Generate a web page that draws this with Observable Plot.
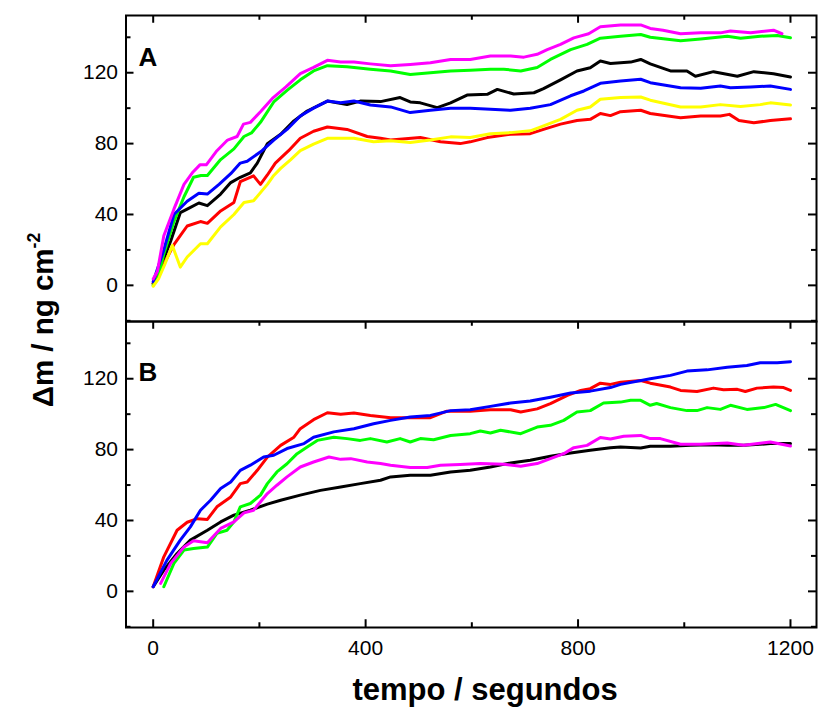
<!DOCTYPE html>
<html><head><meta charset="utf-8">
<script src="https://cdn.jsdelivr.net/npm/d3@7"></script>
<script src="https://cdn.jsdelivr.net/npm/@observablehq/plot@0.6"></script>
<style>html,body{margin:0;padding:0;background:#fff;overflow:hidden}</style>
</head><body><div id="chart"></div>
<script>
// ---------- data ----------
const panels = ["A", "B"];
const seriesOrder = ["black", "red", "green", "blue", "magenta", "yellow"];
const seriesColors = ["#000000", "#ff0000", "#00ff00", "#0000ff", "#ff00ff", "#ffff00"];

const xMajorTicks = [0, 400, 800, 1200];
const xMinorTicks = [200, 600, 1000];
const yMajorTicks = [0, 40, 80, 120];
const yMinorTicks = [-20, 20, 60, 100, 140];

// Panel A : [tempo (s), Δm (ng cm-2)]
const A_black = [[0,1],[20,15],[33,25],[51,41],[64,43],[86,46.5],[102,45],[127,51.5],[146,58],[164,61],[183,63.5],[196,69],[215,80],[240,85.3],[265,92.8],[290,98.4],[328,104],[365,102],[390,104],[428,103.7],[465,106],[484,103.5],[503,103],[535,100.3],[560,103],[591,107.4],[629,107.8],[648,110.6],[679,108],[717,108.7],[735,111],[767,116],[798,121],[823,122.8],[842,126.6],[861,125.2],[899,126],[918,127.5],[936,125],[974,121],[1005,121],[1021,118],[1055,120.6],[1100,118],[1131,120.6],[1168,119.4],[1200,117.6]];
const A_red = [[0,1],[20,12],[39,23],[51,28],[64,33.5],[89,36],[102,35],[127,42],[152,46.8],[164,58.5],[189,61.8],[202,57],[215,62.3],[230,69],[255,76],[277,83],[302,87],[328,89.4],[365,88],[403,84],[428,83],[447,82],[503,83.4],[541,81],[578,80],[597,81],[629,83.4],[673,85.3],[710,85.6],[735,88],[767,91],[798,93],[823,93.7],[842,97],[861,95.8],[880,98],[918,98.8],[936,97],[993,94.6],[1031,95.6],[1068,95.6],[1085,96.5],[1103,93],[1131,91.8],[1162,93],[1200,94]];
const A_green = [[0,0],[10,5],[20,17.7],[39,36],[58,50],[76,61],[90,62],[102,62],[127,71],[152,77],[171,84],[185,86],[202,92],[227,103.5],[252,110],[277,116],[302,121],[328,124],[365,123.4],[409,122],[447,121],[484,119],[522,120],[560,121],[597,121.4],[635,122],[660,122],[692,121],[723,123],[748,127.5],[786,133],[817,136],[842,139.5],[880,140.6],[918,141.6],[936,140],[993,138],[1031,139],[1081,140.6],[1106,139.5],[1143,140.6],[1175,141],[1200,139.7]];
const A_blue = [[0,2],[20,20],[39,40],[64,47.5],[86,52],[102,51.5],[124,57],[146,63],[164,69],[177,70],[205,76],[227,82],[252,88],[277,95.6],[302,100],[328,104],[353,103],[378,104],[409,101.8],[447,100.7],[484,97.5],[522,98.8],[560,100],[597,100],[635,99.4],[673,98.8],[710,100],[748,102],[786,107],[811,109.7],[842,114],[880,115.3],[918,116.3],[936,114.4],[993,111.5],[1031,111.2],[1068,112.5],[1087,111.5],[1125,112],[1162,112.5],[1200,110.6]];
const A_magenta = [[0,3.6],[8,8],[20,28],[39,43],[58,57],[75,64],[88,68],[100,68],[120,76],[140,82],[158,84],[170,91],[183,92],[202,98],[226,106],[250,112],[277,119.5],[302,123],[328,127],[353,126],[378,126],[409,125],[447,124],[484,124.7],[522,125.6],[560,127.5],[597,127.5],[635,129.4],[673,129.4],[698,128.8],[723,130.4],[742,133],[767,136],[792,139.7],[820,142],[842,146],[880,147],[918,147],[936,145],[960,144],[993,142],[1031,142.5],[1068,142.5],[1087,143.5],[1125,142.5],[1168,144],[1184,142]];
const A_yellow = [[0,-0.5],[10,3.6],[22,12],[36,22.5],[51,10.3],[64,16],[89,23.5],[102,23.5],[127,33],[152,40],[171,46.8],[189,47.7],[215,57],[227,62],[240,66],[259,71],[277,76],[302,79.7],[328,83],[378,83],[415,81],[447,81.6],[484,80.6],[522,82],[560,83.8],[597,83.4],[635,85.6],[673,86.2],[710,87.2],[735,90],[767,93.7],[798,98.8],[823,100.7],[842,105],[880,106],[918,106.3],[936,104.5],[993,100.7],[1031,100.7],[1068,102],[1106,101],[1143,102],[1162,103],[1200,101.8]];

// Panel B
const B_black = [[0,2.6],[20,12],[45,21.4],[70,28.9],[102,34.5],[127,39.2],[152,43],[183,45.8],[215,49.2],[240,51.4],[277,54.3],[315,57],[353,58.9],[390,60.8],[428,62.7],[447,64.6],[484,65.5],[522,65.5],[560,67.4],[597,68.3],[635,70.2],[673,72.5],[710,74],[748,76.2],[786,78.1],[823,79.6],[861,81.1],[880,81.5],[918,80.9],[936,81.9],[974,81.9],[1012,82.4],[1049,82.8],[1081,82.4],[1112,82.4],[1162,83.4],[1200,83.4]];
const B_red = [[0,2.6],[20,19.5],[45,34.5],[64,39],[83,41],[102,40.6],[120,47.7],[146,53.3],[164,60.8],[177,61.7],[196,68.3],[215,75.8],[240,82.4],[265,87],[277,91.8],[302,96.9],[328,100.8],[353,100],[378,100.6],[409,99.3],[447,98],[484,98],[522,98],[553,101.7],[597,101.6],[635,102.5],[673,102.5],[692,101.2],[723,103],[748,106],[780,110.6],[805,113.4],[823,114.4],[842,117.5],[861,116.8],[880,118],[918,119],[936,117.5],[974,115.3],[993,113.4],[1024,112.8],[1055,114.7],[1074,113.8],[1100,114],[1115,112.8],[1137,114.7],[1168,115.3],[1187,115],[1200,113.4]];
const B_green = [[20,2.6],[39,15.8],[58,23.3],[76,24.2],[102,25],[120,32.7],[139,34.5],[152,39.2],[164,47.7],[183,49.6],[202,54.3],[215,60.8],[233,67.4],[252,72],[271,77.7],[290,81.5],[309,85.2],[340,87],[365,86.2],[390,85.2],[409,86.2],[440,84.3],[465,86.2],[484,84.3],[503,86.2],[528,85.6],[560,88],[597,89],[616,90.5],[635,89.4],[654,90.9],[692,89],[723,92.7],[748,93.7],[773,96.5],[798,101.2],[823,102],[848,106.3],[880,106.8],[899,107.8],[918,107.8],[936,105],[948,106],[974,103.7],[1005,102],[1024,102],[1043,103.7],[1068,102.7],[1087,105],[1118,102.7],[1150,103.7],[1172,105.5],[1200,102]];
const B_blue = [[0,2.6],[26,17.6],[51,28.9],[70,36.4],[89,45.8],[108,51.4],[127,58],[146,61.7],[164,68.3],[183,71.2],[208,75.8],[227,76.8],[252,80.6],[284,83.4],[302,87],[340,90],[378,91.8],[415,94.6],[447,96.5],[484,98.4],[522,99.3],[560,102],[597,102.5],[635,104.4],[673,106.3],[710,107.4],[748,109.6],[786,111.9],[823,113],[861,115],[880,116.8],[936,120],[974,121.9],[1005,124.3],[1043,125],[1081,126.5],[1118,127.5],[1143,129],[1175,129],[1200,129.6]];
const B_magenta = [[14,4.5],[33,15.8],[58,25],[76,28.5],[102,27.4],[127,35.5],[152,39.2],[171,44.3],[189,45.8],[215,55.2],[233,59.9],[252,64.6],[277,70.2],[302,73],[331,75.8],[353,74.5],[372,74.9],[403,73],[428,72.1],[447,71.2],[484,69.9],[516,69.9],[541,71.2],[578,71.6],[616,72.1],[660,71.7],[692,70.6],[723,72.1],[748,74.9],[773,77.7],[792,81.1],[817,82.4],[842,86.8],[861,86],[886,87.5],[918,88],[936,86.2],[955,86.2],[993,83],[1031,83],[1081,83.7],[1112,82.4],[1162,84.3],[1200,82]];

const panelSeries = {
  A: {black: A_black, red: A_red, green: A_green, blue: A_blue, magenta: A_magenta, yellow: A_yellow},
  B: {black: B_black, red: B_red, green: B_green, blue: B_blue, magenta: B_magenta}
};

// ---------- table ----------
const rows = [];
for (const p of panels) {
  for (const s of seriesOrder) {
    const pts = panelSeries[p][s];
    if (!pts) continue;
    for (const [t, m] of pts) rows.push({panel: p, series: s, t, m});
  }
}

const font = "'Liberation Sans', Arial, Helvetica, sans-serif";
const W = 818, H = 709, ML = 125.5, MR = 2, MT = 14.5, MB = 82;
const plotW = W - ML - MR;
const facetH = (H - MT - MB) / panels.length;
const major = 8, minor = 5;

const lineMarks = seriesOrder.map((s, i) =>
  Plot.line(rows.filter(r => r.series === s), {
    x: "t", y: "m", fy: "panel", stroke: seriesColors[i],
    strokeWidth: 3, strokeLinejoin: "round", strokeLinecap: "round"
  })
);

const tickStyle = {stroke: "#000", strokeWidth: 2};

const plot = Plot.plot({
  width: W,
  height: H,
  marginLeft: ML,
  marginRight: MR,
  marginTop: MT,
  marginBottom: MB,
  style: {fontFamily: font, fontSize: "21px", color: "#000", background: "#fff", overflow: "visible"},
  x: {domain: [-51.2, 1249], axis: null},
  y: {domain: [-20.4, 152.3], axis: null},
  fy: {domain: panels, padding: 0, axis: null},
  marks: [
    ...lineMarks,
    Plot.frame({stroke: "#000", strokeWidth: 2}),
    // y ticks (inward), left and right, in every panel
    Plot.tickY(yMajorTicks, {y: d => d, insetRight: plotW - major, ...tickStyle}),
    Plot.tickY(yMinorTicks, {y: d => d, insetRight: plotW - minor, ...tickStyle}),
    Plot.tickY(yMajorTicks, {y: d => d, insetLeft: plotW - major, ...tickStyle}),
    Plot.tickY(yMinorTicks, {y: d => d, insetLeft: plotW - minor, ...tickStyle}),
    // x ticks (inward): top of every panel
    Plot.tickX(xMajorTicks, {x: d => d, insetBottom: facetH - major, ...tickStyle}),
    Plot.tickX(xMinorTicks, {x: d => d, insetBottom: facetH - minor, ...tickStyle}),
    // x ticks (inward): bottom of the lower panel
    Plot.tickX(xMajorTicks, {x: d => d, fy: () => panels[1], insetTop: facetH - major, ...tickStyle}),
    Plot.tickX(xMinorTicks, {x: d => d, fy: () => panels[1], insetTop: facetH - minor, ...tickStyle}),
    // tick labels
    Plot.axisY(yMajorTicks, {anchor: "left", tickSize: 0, tickPadding: 8, label: null, tickFormat: d3.format("d")}),
    Plot.axisX(xMajorTicks, {anchor: "bottom", tickSize: 0, tickPadding: 13, label: null, tickFormat: d3.format("d")}),
    // panel letters
    Plot.text([panels[0]], {text: d => d, fy: d => d, frameAnchor: "top-left", textAnchor: "start", lineAnchor: "bottom", dx: 12.5, dy: 50.5, fontSize: 26, fontWeight: "bold"}),
    Plot.text([panels[1]], {text: d => d, fy: d => d, frameAnchor: "top-left", textAnchor: "start", lineAnchor: "bottom", dx: 12.5, dy: 59.5, fontSize: 26, fontWeight: "bold"})
  ]
});

document.getElementById("chart").append(plot);

// axis titles
const svg = d3.select(plot);
const yl = svg.append("text")
  .attr("transform", "translate(53,320) rotate(-90)")
  .attr("text-anchor", "middle")
  .attr("font-family", font).attr("font-weight", "bold").attr("font-size", 29.5).attr("fill", "#000");
yl.append("tspan").text("Δm / ng cm");
yl.append("tspan").attr("dy", "-0.75em").attr("font-size", "60%").text("-2");

svg.append("text")
  .attr("x", 485).attr("y", 700)
  .attr("text-anchor", "middle")
  .attr("font-family", font).attr("font-weight", "bold").attr("font-size", 31).attr("fill", "#000")
  .text("tempo / segundos");
</script>
</body></html>
